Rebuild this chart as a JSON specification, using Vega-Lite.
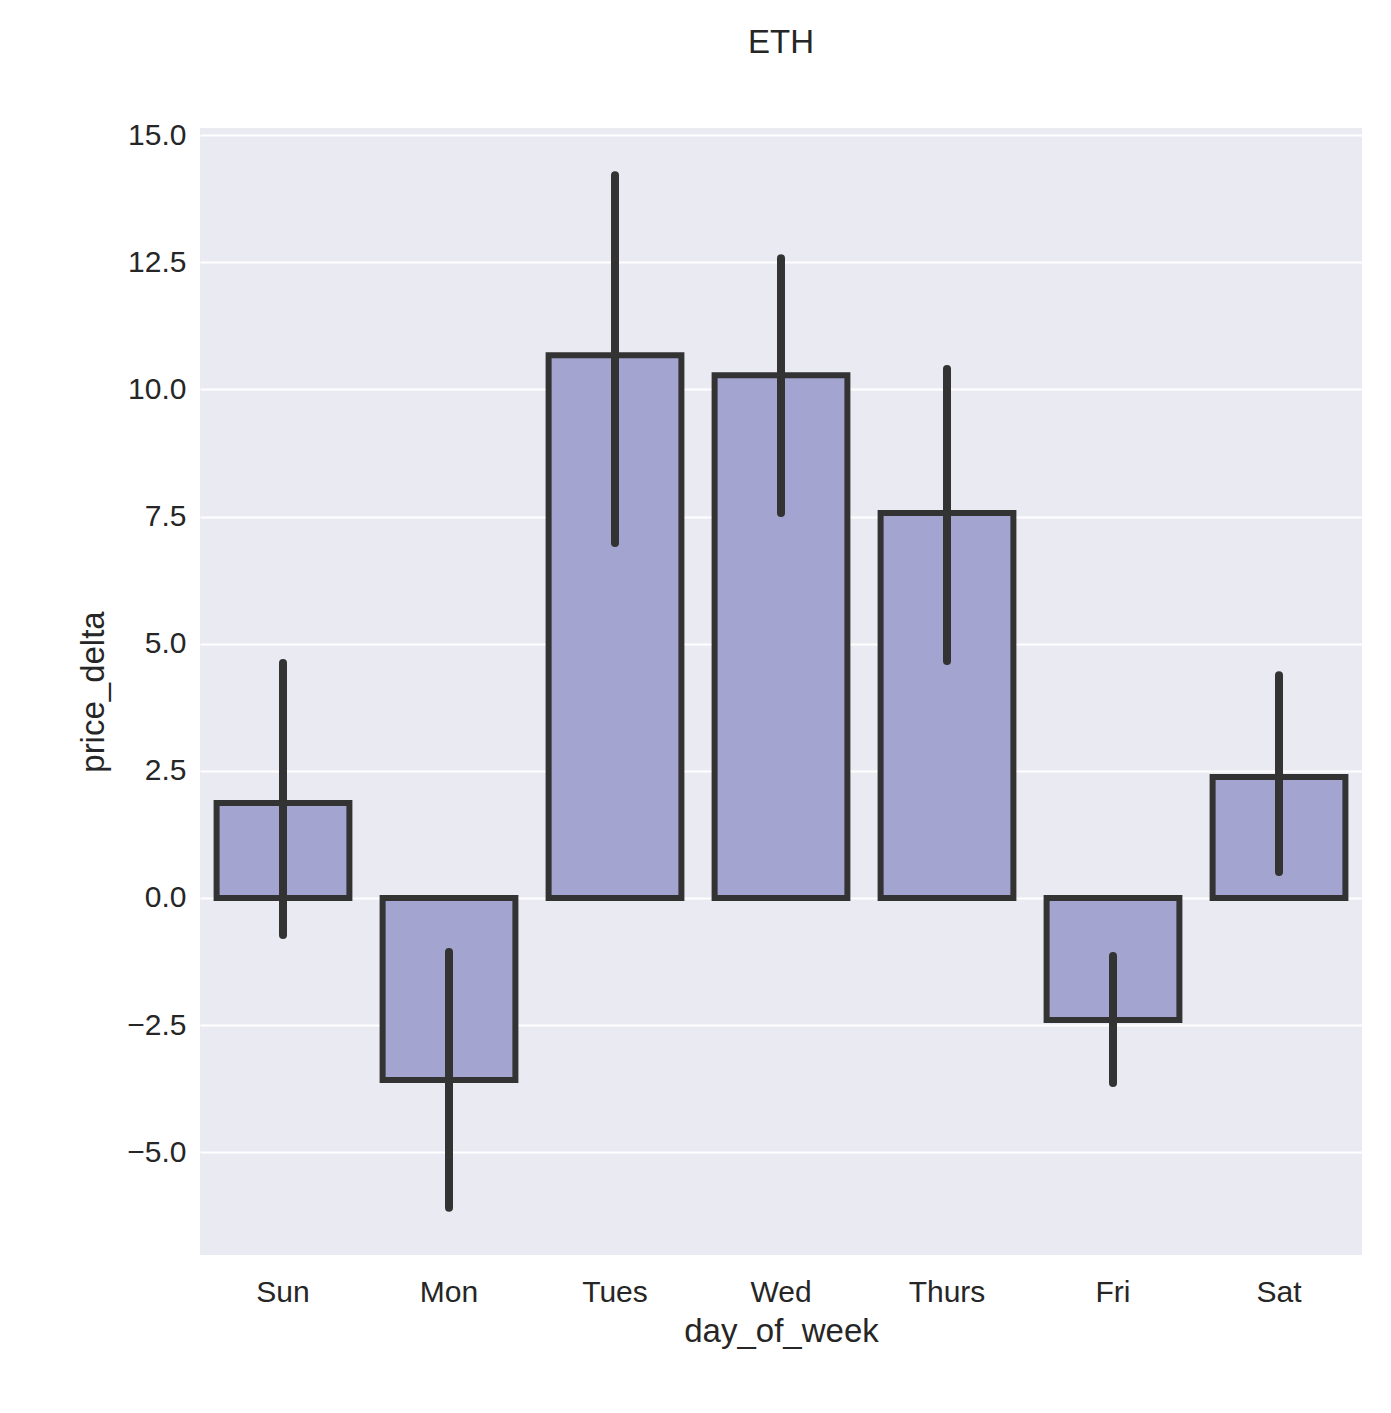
{
  "$schema": "https://vega.github.io/schema/vega-lite/v6.json",
  "autosize": {"type": "none"},
  "width": 1162,
  "height": 1127,
  "padding": {"left": 200, "top": 128, "right": 29, "bottom": 158},
  "background": "white",
  "title": {"text": "ETH", "fontSize": 33, "font": "Liberation Sans", "fontWeight": "normal", "color": "#262626", "offset": 60},
  "config": {
    "view": {"fill": "#eaeaf2", "stroke": null},
    "font": "Liberation Sans",
    "axis": {"domain": false, "ticks": false, "gridColor": "white", "gridWidth": 2, "labelFontSize": 30, "titleFontSize": 33, "labelColor": "#262626", "titleColor": "#262626", "titleFontWeight": "normal"}
  },
  "data": {
    "values": [
      {"day": "Sun", "value": 1.87, "lo": -0.73, "hi": 4.62},
      {"day": "Mon", "value": -3.58, "lo": -6.09, "hi": -1.06},
      {"day": "Tues", "value": 10.67, "lo": 6.98, "hi": 14.21},
      {"day": "Wed", "value": 10.28, "lo": 7.57, "hi": 12.58},
      {"day": "Thurs", "value": 7.57, "lo": 4.66, "hi": 10.40},
      {"day": "Fri", "value": -2.40, "lo": -3.64, "hi": -1.14},
      {"day": "Sat", "value": 2.38, "lo": 0.51, "hi": 4.38}
    ]
  },
  "encoding": {
    "x": {
      "field": "day", "type": "nominal", "sort": null, "title": "day_of_week",
      "scale": {"paddingInner": 0.2, "paddingOuter": 0.1},
      "axis": {"labelAngle": 0, "labelPadding": 22, "titlePadding": 8, "grid": false}
    }
  },
  "layer": [
    {
      "mark": {"type": "bar", "fill": "#a3a4d0", "stroke": "#333333", "strokeWidth": 6},
      "encoding": {
        "y": {
          "field": "value", "type": "quantitative", "title": "price_delta",
          "scale": {"domain": [-7.02, 15.14], "nice": false, "zero": false},
          "axis": {"values": [-5, -2.5, 0, 2.5, 5, 7.5, 10, 12.5, 15], "format": ".1f", "labelPadding": 14, "titlePadding": 16}
        }
      }
    },
    {
      "mark": {"type": "rule", "color": "#333333", "strokeWidth": 8, "strokeCap": "round"},
      "encoding": {
        "y": {"field": "lo", "type": "quantitative"},
        "y2": {"field": "hi"}
      }
    }
  ]
}
